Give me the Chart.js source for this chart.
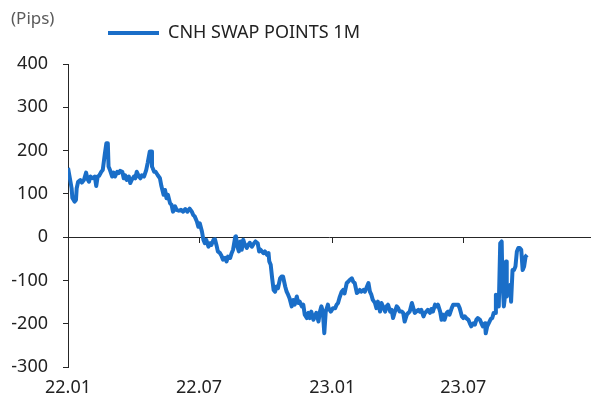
<!DOCTYPE html>
<html>
<head>
<meta charset="utf-8">
<script src="https://cdn.jsdelivr.net/npm/chart.js@4.4.1/dist/chart.umd.min.js"></script>
<style>
  html, body { margin: 0; padding: 0; background: #ffffff; }
  #wrap { width: 591px; height: 400px; }
</style>
</head>
<body>
<div id="wrap"><canvas id="chart"></canvas></div>
<script>
// days since 2022-01-01
const DAYS = [
    0, 3, 5, 6, 9, 11, 12, 14, 17, 19, 22, 25, 27, 29, 31, 34, 37, 39, 41, 43,
    46, 48, 51, 53, 55, 56, 58, 61, 63, 65, 68, 70, 72, 75, 77, 79, 81, 84, 86, 88,
    91, 93, 95, 98, 100, 102, 105, 108, 110, 113, 115, 116, 119, 121, 124, 127, 129, 132, 134, 136,
    138, 141, 143, 145, 148, 150, 153, 156, 159, 162, 165, 168, 171, 173, 175, 178, 180, 182, 185, 187,
    189, 191, 194, 196, 198, 201, 203, 205, 207, 210, 212, 214, 217, 219, 221, 224, 226, 228, 231, 232,
    234, 236, 238, 240, 242, 244, 247, 249, 251, 254, 257, 259, 262, 264, 266, 270, 272, 275, 277, 278,
    280, 282, 284, 286, 288, 290, 293, 295, 297, 300, 302, 304, 306, 309, 311, 313, 316, 318, 320, 323,
    325, 327, 330, 332, 334, 336, 339, 341, 343, 346, 348, 350, 352, 354, 356, 359, 360, 363, 366, 369,
    371, 373, 375, 378, 380, 382, 385, 387, 389, 392, 394, 396, 399, 401, 403, 405, 408, 410, 412, 415,
    417, 419, 421, 424, 426, 428, 431, 433, 435, 438, 440, 442, 445, 447, 449, 451, 454, 456, 458, 461,
    463, 465, 468, 470, 472, 475, 477, 479, 481, 484, 486, 488, 491, 493, 495, 497, 500, 502, 504, 507,
    509, 511, 514, 516, 518, 520, 523, 525, 527, 530, 532, 534, 537, 539, 541, 544, 546, 548, 550, 553,
    555, 557, 560, 562, 564, 566, 569, 571, 573, 576, 577, 579, 581, 584, 586, 588, 590, 591, 593, 595,
    597, 599, 600, 602, 603, 605, 606, 609, 611, 612, 614, 616, 618, 620, 622, 624, 626, 628, 630, 632,
    634,
];

const SWAP_POINTS = [
    160, 132, 113, 91, 82, 86, 113, 128, 132, 126, 132, 149, 134, 128, 140, 136, 140, 118, 140, 142,
    151, 155, 194, 217, 217, 163, 155, 140, 149, 140, 151, 148, 153, 151, 136, 143, 132, 140, 125, 132,
    140, 136, 151, 140, 136, 143, 140, 155, 171, 198, 198, 163, 151, 151, 143, 136, 118, 98, 109, 90,
    98, 78, 75, 59, 71, 63, 61, 63, 59, 65, 59, 66, 59, 51, 48, 36, 24, 32, 13, -6,
    -14, -6, -22, -14, -18, -6, -5, -18, -33, -37, -43, -52, -48, -56, -45, -48, -37, -29, 1, 2,
    -22, -33, -10, -29, -6, -16, -25, -18, -13, -22, -14, -10, -14, -33, -29, -37, -33, -41, -37, -56,
    -64, -95, -122, -126, -114, -118, -95, -91, -91, -114, -126, -133, -141, -160, -145, -156, -137, -152, -149, -160,
    -156, -179, -187, -175, -187, -172, -191, -183, -175, -195, -172, -160, -172, -222, -172, -156, -164, -172, -164, -164,
    -156, -152, -140, -126, -122, -130, -106, -103, -99, -95, -103, -106, -129, -126, -122, -126, -122, -126, -118, -106,
    -126, -133, -145, -152, -164, -149, -172, -152, -160, -172, -160, -156, -172, -168, -187, -175, -160, -164, -172, -172,
    -175, -195, -179, -175, -172, -152, -164, -175, -172, -168, -172, -168, -183, -175, -172, -168, -175, -166, -172, -156,
    -160, -156, -172, -191, -179, -191, -175, -172, -179, -164, -156, -156, -156, -156, -164, -183, -187, -183, -187, -191,
    -199, -206, -199, -202, -191, -187, -191, -199, -206, -199, -222, -206, -199, -189, -187, -175, -175, -133, -137, -160,
    -14, -10, -99, -160, -145, -56, -137, -122, -110, -149, -76, -76, -68, -33, -25, -25, -29, -76, -68, -45,
    -41,
];

const X_TICK_DAYS = [0, 181, 365, 546];
const X_TICK_LABELS = ["22.01", "22.07", "23.01", "23.07"];
const X_MAX = 721;

const SERIES_LABEL = "CNH SWAP POINTS 1M";
const UNIT_LABEL = "(Pips)";

const BLUE = "#1a6ec8";
const TEXT = "#222222";
const AXIS = "#262626";

Chart.defaults.font.family = "'Noto Sans', sans-serif";

function setTicks(scale) {
    scale.ticks = X_TICK_DAYS.map((value) => ({ value }));
}

// the legend sits to the right of the unit label, on its own offset
const legendShift = {
    id: "legendShift",
    afterLayout(chart) {
        chart.legend.left = 98;
        chart.legend.top = 14;
    },
};

new Chart(document.getElementById("chart"), {
    type: "line",
    data: {
        datasets: [
            {
                label: SERIES_LABEL,
                data: DAYS.map((d, i) => ({ x: d, y: SWAP_POINTS[i] })),
                borderColor: BLUE,
                backgroundColor: BLUE,
                borderWidth: 4,
                borderJoinStyle: "round",
                pointRadius: 0,
                tension: 0,
            },
        ],
    },
    options: {
        responsive: true,
        maintainAspectRatio: false,
        animation: false,
        layout: { padding: { top: 0, right: 1, bottom: 0, left: 11 } },
        plugins: {
            title: {
                display: true,
                text: UNIT_LABEL,
                align: "start",
                color: "#5a5a5a",
                font: { size: 17, weight: "normal" },
                padding: { top: 9, bottom: 0 },
            },
            legend: {
                display: true,
                position: "top",
                align: "start",
                maxHeight: 34.6,
                labels: {
                    boxWidth: 51,
                    boxHeight: 4,
                    padding: 10,
                    color: TEXT,
                    font: { size: 18 },
                    generateLabels: (chart) =>
                        Chart.defaults.plugins.legend.labels
                            .generateLabels(chart)
                            .map((item) => ({ ...item, lineWidth: 0, fillStyle: BLUE })),
                },
            },
            tooltip: { enabled: false },
        },
        scales: {
            x: {
                type: "linear",
                min: 0,
                max: X_MAX,
                afterBuildTicks: setTicks,
                afterFit: (scale) => { scale.height = 33; },
                ticks: {
                    autoSkip: false,
                    maxRotation: 0,
                    padding: 10,
                    color: TEXT,
                    font: { size: 18 },
                    callback: (value, index) => X_TICK_LABELS[index],
                },
                grid: { display: false, drawTicks: false },
                border: { display: false },
            },
            // zero line with its month tick marks
            x0: {
                type: "linear",
                axis: "x",
                position: { y: 0 },
                min: 0,
                max: X_MAX,
                afterBuildTicks: setTicks,
                afterFit: (scale) => { scale.height = 0; },
                ticks: { display: false },
                grid: { drawOnChartArea: false, drawTicks: true, tickLength: 5, color: AXIS },
                border: { display: true, color: AXIS, width: 1 },
            },
            y: {
                min: -300,
                max: 400,
                afterFit: (scale) => { scale.width = 57; },
                ticks: { stepSize: 100, padding: 15, color: TEXT, font: { size: 18 } },
                grid: { drawOnChartArea: false, tickLength: 5, color: AXIS },
                border: { display: true, color: AXIS, width: 1 },
            },
        },
    },
    plugins: [legendShift],
});
</script>
</body>
</html>
